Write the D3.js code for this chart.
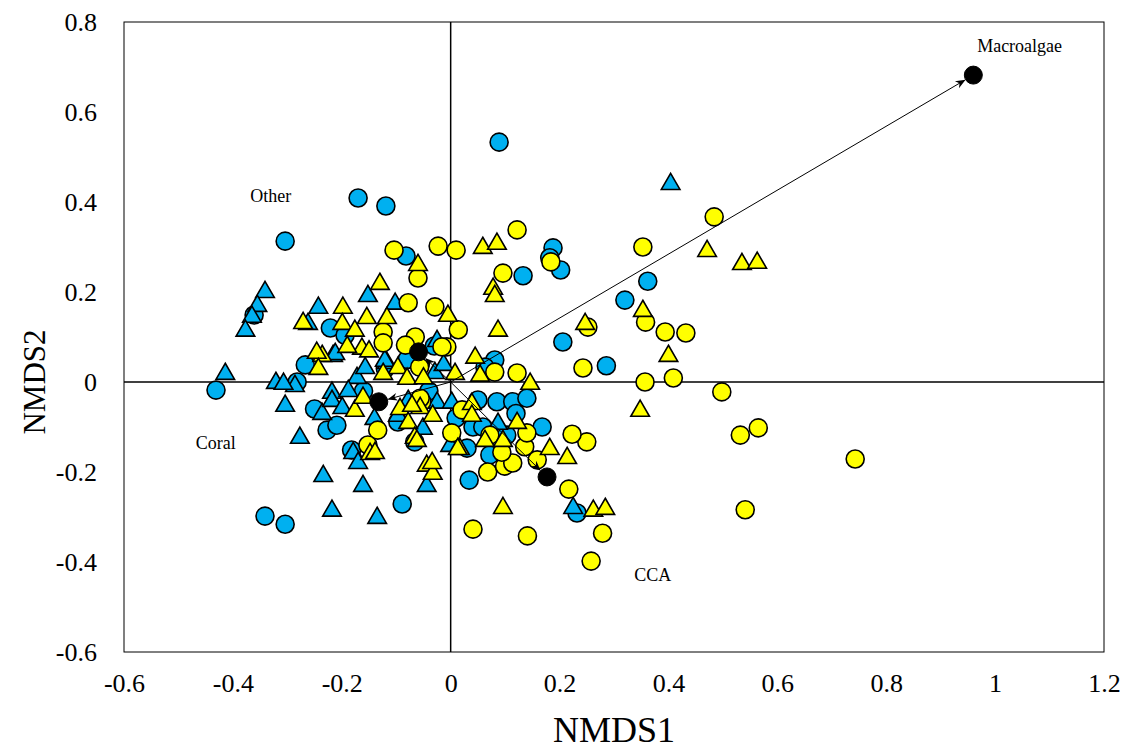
<!DOCTYPE html>
<html>
<head>
<meta charset="utf-8">
<script src="https://cdn.jsdelivr.net/npm/d3@7"></script>
<style>
html,body{margin:0;padding:0;background:#fff;}
svg text{font-family:'Liberation Serif','Times New Roman',serif;fill:#000;}
</style>
</head>
<body>
<svg id="chart" width="1128" height="750"></svg>
<script>
// ---- data ----
const xTicks = [-0.6,-0.4,-0.2,0,0.2,0.4,0.6,0.8,1,1.2];
const yTicks = [-0.6,-0.4,-0.2,0,0.2,0.4,0.6,0.8];
const xTitle = "NMDS1";
const yTitle = "NMDS2";

const blueCircles = [[0.089,0.533],[-0.170,0.409],[-0.119,0.391],[-0.304,0.313],[-0.082,0.280],[0.188,0.298],[0.182,0.276],[0.202,0.249],[0.133,0.236],[0.320,0.182],[0.362,0.224],[0.206,0.089],[0.286,0.036],[-0.431,-0.018],[-0.361,0.149],[-0.221,0.120],[-0.282,0.0],[-0.341,-0.298],[-0.304,-0.316],[-0.089,-0.271],[0.034,-0.218],[0.232,-0.291],[0.050,-0.040],[0.085,-0.044],[0.114,-0.044],[0.140,-0.036],[0.041,-0.100],[0.059,-0.100],[0.168,-0.100],[0.072,-0.162],[0.103,-0.118],[0.030,-0.147],[-0.227,-0.107],[-0.209,-0.096],[-0.182,-0.151],[-0.097,-0.089],[-0.066,-0.133],[-0.267,0.038],[-0.194,0.104],[0.081,0.049],[0.063,0.033],[-0.120,0.030],[-0.080,0.050],[-0.030,0.080],[-0.160,-0.020],[-0.250,-0.060],[0.010,-0.080],[0.120,-0.070],[-0.040,-0.020]];

const blueTriangles = [[0.404,0.442],[-0.341,0.202],[-0.355,0.171],[-0.365,0.147],[-0.377,0.116],[-0.414,0.020],[-0.321,0.0],[-0.304,-0.051],[-0.277,-0.122],[-0.234,-0.207],[-0.161,-0.229],[-0.218,-0.284],[-0.135,-0.300],[-0.179,-0.156],[-0.044,-0.229],[-0.236,-0.069],[-0.243,0.167],[-0.286,-0.007],[-0.152,0.193],[-0.102,0.176],[-0.216,0.060],[-0.117,0.044],[-0.172,0.011],[-0.157,0.033],[-0.025,0.093],[-0.029,0.022],[-0.212,0.064],[-0.218,-0.022],[-0.188,-0.018],[-0.307,-0.002],[-0.262,0.131],[-0.218,-0.040],[-0.199,-0.056],[-0.170,-0.178],[-0.121,0.049],[-0.078,-0.040],[-0.025,-0.044],[-0.001,-0.140],[-0.097,-0.073],[-0.051,-0.102],[0.002,-0.044],[0.087,-0.091],[0.225,-0.278],[-0.013,0.040],[-0.140,-0.080]];

const yellowCircles = [[0.484,0.367],[0.353,0.300],[0.184,0.267],[0.122,0.338],[0.010,0.293],[-0.023,0.302],[-0.104,0.293],[0.096,0.242],[0.358,0.133],[0.394,0.111],[0.432,0.109],[0.252,0.122],[0.357,0.0],[0.409,0.009],[0.498,-0.022],[0.532,-0.118],[0.565,-0.102],[0.250,-0.133],[0.243,0.031],[0.743,-0.171],[0.541,-0.284],[0.258,-0.398],[0.279,-0.336],[0.141,-0.342],[0.041,-0.327],[0.217,-0.238],[0.223,-0.116],[0.068,-0.200],[0.099,-0.187],[0.114,-0.180],[0.136,-0.144],[0.140,-0.113],[0.159,-0.173],[0.094,-0.156],[0.072,-0.118],[0.002,-0.113],[0.021,-0.062],[0.014,0.116],[-0.007,0.078],[0.081,0.022],[0.122,0.020],[-0.060,0.231],[-0.078,0.176],[-0.029,0.167],[-0.124,0.111],[-0.124,0.087],[-0.065,0.100],[-0.083,0.082],[-0.016,0.078],[-0.057,0.033],[-0.134,-0.107],[-0.053,-0.044],[-0.152,-0.140],[-0.056,-0.036]];

const yellowTriangles = [[0.471,0.293],[0.535,0.264],[0.563,0.267],[0.353,0.160],[0.400,0.060],[0.348,-0.062],[0.247,0.131],[0.059,0.300],[0.085,0.309],[0.078,0.209],[0.081,0.193],[0.087,0.116],[-0.005,0.149],[0.045,0.056],[0.008,0.020],[0.054,0.016],[0.146,-0.002],[0.039,-0.047],[0.039,-0.073],[0.122,-0.089],[0.063,-0.129],[0.096,-0.129],[0.017,-0.147],[0.182,-0.147],[0.214,-0.167],[0.096,-0.278],[0.262,-0.284],[0.284,-0.280],[-0.130,0.220],[-0.198,0.167],[-0.154,0.144],[-0.117,0.144],[-0.199,0.131],[-0.176,0.116],[-0.163,0.076],[-0.236,0.060],[-0.097,0.033],[-0.124,0.020],[-0.080,0.009],[-0.271,0.133],[-0.246,0.067],[-0.243,0.031],[-0.176,-0.062],[-0.161,-0.033],[-0.148,-0.158],[-0.093,-0.058],[-0.056,-0.056],[-0.033,-0.073],[-0.078,-0.089],[-0.066,-0.122],[-0.044,-0.184],[-0.033,-0.202],[-0.139,-0.156],[-0.071,-0.051],[-0.062,-0.129],[-0.034,-0.178],[0.013,-0.147],[-0.060,0.262],[-0.050,0.010],[-0.190,0.080],[-0.150,0.070]];

const centroidNames = ["Coral","Other","CCA","Macroalgae"];
const centroidX = [-0.132,-0.059,0.177,0.960];
const centroidY = [-0.044,0.067,-0.211,0.682];
const labelX = [-0.468,-0.368,0.337,0.967];
const labelY = [-0.149,0.400,-0.442,0.733];

// ---- layout ----
const W = 1128, H = 750;
const m = {left:124, right:24, top:22, bottom:98};
const FONT = "'Liberation Serif', 'Times New Roman', serif";
const svg = d3.select("#chart");
const x = d3.scaleLinear().domain([-0.6,1.2]).range([m.left, W-m.right]);
const y = d3.scaleLinear().domain([-0.6,0.8]).range([H-m.bottom, m.top]);
const fmt = d => String(+(+d).toFixed(1));

// frame
svg.append("rect").attr("x",x(-0.6)).attr("y",y(0.8))
  .attr("width",x(1.2)-x(-0.6)).attr("height",y(-0.6)-y(0.8))
  .attr("fill","none").attr("stroke","#000").attr("stroke-width",1);

// axes tick labels
const xAxis = d3.axisBottom(x).tickValues(xTicks).tickSize(0).tickPadding(22).tickFormat(fmt);
const gx = svg.append("g").attr("transform",`translate(0,${y(-0.6)})`).call(xAxis)
  .attr("font-family",FONT).attr("font-size",26);
gx.select(".domain").remove();
gx.selectAll("text").style("font-family",FONT).style("font-size","26px");

const yAxis = d3.axisLeft(y).tickValues(yTicks).tickSize(0).tickPadding(27).tickFormat(fmt);
const gy = svg.append("g").attr("transform",`translate(${x(-0.6)},0)`).call(yAxis)
  .attr("font-family",FONT).attr("font-size",26);
gy.select(".domain").remove();
gy.selectAll("text").style("font-family",FONT).style("font-size","26px");

// zero lines
svg.append("line").attr("x1",x(0)).attr("x2",x(0)).attr("y1",y(0.8)).attr("y2",y(-0.6))
  .attr("stroke","#000").attr("stroke-width",1.5);
svg.append("line").attr("x1",x(-0.6)).attr("x2",x(1.2)).attr("y1",y(0)).attr("y2",y(0))
  .attr("stroke","#000").attr("stroke-width",1.5);

// titles
svg.append("text").attr("x",(x(-0.6)+x(1.2))/2).attr("y",742).attr("text-anchor","middle")
  .style("font-size","36px").text(xTitle);
svg.append("text").attr("transform",`translate(45,${y(0)}) rotate(-90)`).attr("text-anchor","middle")
  .style("font-size","31px").text(yTitle);

// points
const tri = d3.symbol().type(d3.symbolTriangle).size(150);
function drawCircles(data, fill){
  svg.append("g").selectAll("circle").data(data).join("circle")
    .attr("cx",d=>x(d[0])).attr("cy",d=>y(d[1])).attr("r",9)
    .attr("fill",fill).attr("stroke","#000").attr("stroke-width",1.6);
}
function drawTriangles(data, fill){
  svg.append("g").selectAll("path").data(data).join("path")
    .attr("d",tri).attr("transform",d=>`translate(${x(d[0])},${y(d[1])+1})`)
    .attr("fill",fill).attr("stroke","#000").attr("stroke-width",1.6).attr("stroke-linejoin","miter");
}
drawCircles(blueCircles,"#00B0F0");
drawTriangles(blueTriangles,"#00B0F0");
drawCircles(yellowCircles,"#FFFF00");
drawTriangles(yellowTriangles,"#FFFF00");

// arrows
svg.append("defs").append("marker").attr("id","ah").attr("viewBox","0 -5 10 10")
  .attr("refX",9).attr("refY",0).attr("markerWidth",10).attr("markerHeight",10)
  .attr("markerUnits","userSpaceOnUse").attr("orient","auto")
  .append("path").attr("d","M0,-4L10,0L0,4L3,0Z").attr("fill","#000");

const cent = centroidNames.map((n,i)=>({n, x:centroidX[i], y:centroidY[i]}));
svg.append("g").selectAll("line").data(cent).join("line")
  .attr("x1",x(0)).attr("y1",y(0))
  .attr("x2",d=>{const dx=x(d.x)-x(0), dy=y(d.y)-y(0), L=Math.hypot(dx,dy); return x(0)+dx*(L-10)/L;})
  .attr("y2",d=>{const dx=x(d.x)-x(0), dy=y(d.y)-y(0), L=Math.hypot(dx,dy); return y(0)+dy*(L-10)/L;})
  .attr("stroke","#000").attr("stroke-width",1).attr("marker-end","url(#ah)");

svg.append("g").selectAll("circle").data(cent).join("circle")
  .attr("cx",d=>x(d.x)).attr("cy",d=>y(d.y)).attr("r",9)
  .attr("fill","#000").attr("stroke","#000").attr("stroke-width",1);

// labels
svg.append("g").selectAll("text").data(centroidNames).join("text")
  .attr("x",(d,i)=>x(labelX[i])).attr("y",(d,i)=>y(labelY[i]))
  .style("font-size","18px").text(d=>d);
</script>
</body>
</html>
